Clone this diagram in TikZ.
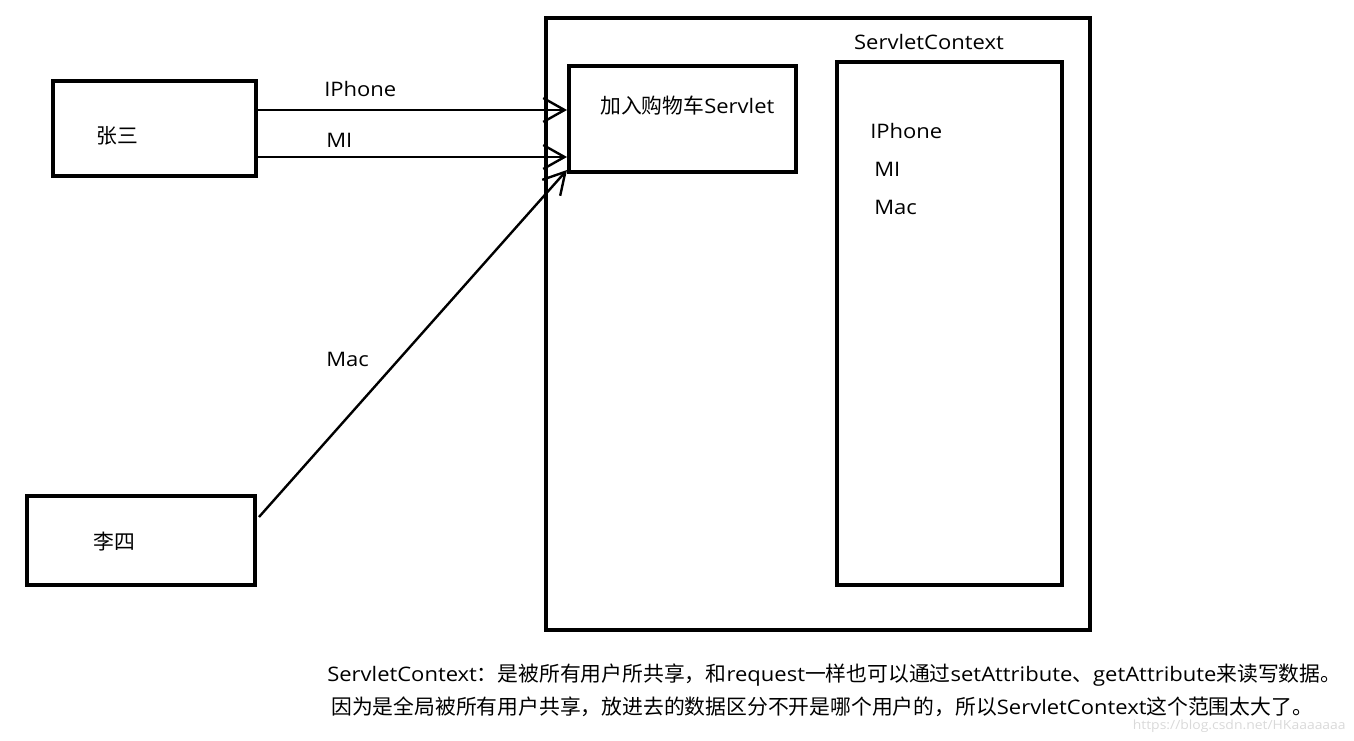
\documentclass[tikz,border=0pt]{standalone}
\usepackage{fontspec}
\setmainfont[FakeStretch=1.1]{Open Sans}
\newfontfamily\cjk[Scale=1.04]{Noto Sans CJK SC}
\usetikzlibrary{arrows.meta}
\begin{document}
\begin{tikzpicture}[x=0.75pt,y=-0.75pt,
  box/.style={draw,line width=3pt,inner sep=0pt},
  lbl/.style={font=\fontsize{15}{18}\selectfont,inner sep=0pt},
  conn/.style={line width=1.8pt,-{Straight Barb[length=16pt,width=18pt,line width=1.8pt]}}]
\useasboundingbox (0,0) rectangle (1354,741);
% boxes
\node[box,minimum width=152.25pt,minimum height=71.25pt] (zsbox) at (154.5,128.5) {};
\node[box,minimum width=171pt,minimum height=66.75pt] (lsbox) at (141,540.5) {};
\node[box,minimum width=408pt,minimum height=459pt] (outer) at (818,324) {};
\node[box,minimum width=170.25pt,minimum height=79.5pt] (svbox) at (682.5,119) {};
\node[box,minimum width=168.75pt,minimum height=392.25pt] (scbox) at (949.5,323.5) {};
% connector ends
\coordinate (zs1) at (zsbox.east |- 0,110);
\coordinate (zs2) at (zsbox.east |- 0,157);
\coordinate (ls) at (259,517);
\coordinate (sv1) at (svbox.west |- 0,110);
\coordinate (sv2) at (svbox.west |- 0,157);
\coordinate (sv3) at (567,170);
% texts
\node[lbl] (tzs) at (117,136) {\cjk 张三};
\node[lbl] (tls) at (114,542) {\cjk 李四};
\node[lbl] (tsc) at (929,42) {ServletContext};
\node[lbl,anchor=west] (tsv) at (600,106) {{\cjk 加入购物车}Servlet};
\node[lbl,anchor=west] (c1) at (870,131) {IPhone};
\node[lbl,anchor=west] (c2) at (874,169) {MI};
\node[lbl,anchor=west] (c3) at (874,207) {Mac};
\node[lbl,anchor=west] (a1) at (324,89) {IPhone};
\node[lbl,anchor=west] (a2) at (326,140) {MI};
\node[lbl,anchor=west] (a3) at (326,359) {Mac};
% connectors
\draw[conn] (zs1) -- (sv1);
\draw[conn] (zs2) -- (sv2);
\draw[conn] (ls) -- (sv3);
% bottom text
\node[lbl,anchor=west] (n1) at (327,675) {ServletContext{\cjk ：是被所有用户所共享，和}request{\cjk 一样也可以通过}setAttribute{\cjk 、}getAttribute{\cjk 来读写数据。}};
\node[lbl,anchor=west] (n2) at (331,707) {{\cjk 因为是全局被所有用户共享，放进去的数据区分不开是哪个用户的，所以}ServletContext{\cjk 这个范围太大了。}};
\node[font=\fontsize{9.5}{11}\selectfont,text=black!15,anchor=east,inner sep=0pt] (wm) at (1346,726) {https://blog.csdn.net/HKaaaaaaa};
\end{tikzpicture}
\end{document}
